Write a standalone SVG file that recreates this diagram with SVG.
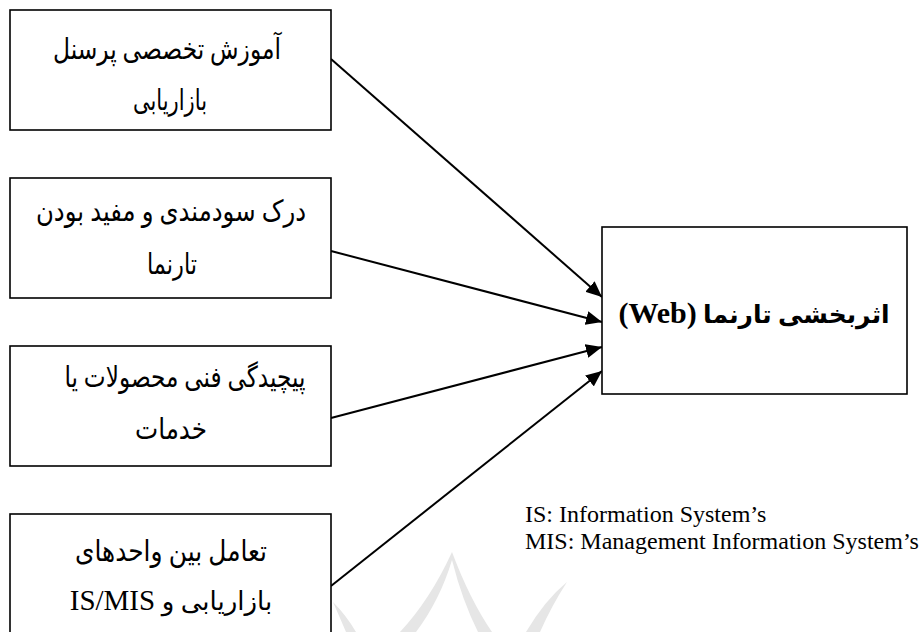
<svg xmlns="http://www.w3.org/2000/svg" width="922" height="632" viewBox="0 0 922 632">
<style>
.box{fill:#fff;stroke:#000;stroke-width:1.6}
.fa{font-family:"Liberation Serif","DejaVu Sans",serif;font-size:29px;fill:#000;text-anchor:middle}
.tgt{font-family:"Liberation Serif","DejaVu Sans",serif;font-size:25px;font-weight:bold;fill:#000;text-anchor:middle}
.leg{font-family:"Liberation Serif",serif;font-size:24px;fill:#000}
.edge{stroke:#000;stroke-width:2;fill:none;marker-end:url(#ah)}
.wm{fill:#e6e6e6}
</style>
<defs>
<marker id="ah" markerUnits="userSpaceOnUse" markerWidth="17" markerHeight="14" refX="16" refY="7" orient="auto">
<path d="M0,0 L16,7 L0,14 z" fill="#000"/>
</marker>
</defs>
<rect width="922" height="632" fill="#fff"/>
<g id="watermark">
<path class="wm" d="M452,552 Q430,600 400,632 L416,632 Q440,600 452,560 Q462,600 478,632 L492,632 Q470,600 452,552 z"/>
<path class="wm" d="M567,582 Q545,600 526,632 L540,632 Q552,605 567,582 z"/>
<path class="wm" d="M333,602 Q340,618 346,632 L356,632 Q346,615 333,602 z"/>
</g>
<g id="connectors">
<line class="edge" x1="331" y1="59" x2="602" y2="297"/>
<line class="edge" x1="331" y1="251" x2="602" y2="322"/>
<line class="edge" x1="331" y1="418" x2="602" y2="347"/>
<line class="edge" x1="331" y1="586" x2="602" y2="371"/>
</g>
<g id="n1">
<rect class="box" x="10" y="10" width="321" height="120"/>
<text class="fa" x="167" y="59" direction="rtl" textLength="228" lengthAdjust="spacingAndGlyphs">آموزش تخصصی پرسنل</text>
<text class="fa" x="170" y="110" direction="rtl" textLength="74" lengthAdjust="spacingAndGlyphs">بازاریابی</text>
</g>
<g id="n2">
<rect class="box" x="10" y="178" width="321" height="120"/>
<text class="fa" x="171" y="221" direction="rtl" textLength="270" lengthAdjust="spacingAndGlyphs">درک سودمندی و مفید بودن</text>
<text class="fa" x="172" y="274" direction="rtl" textLength="50" lengthAdjust="spacingAndGlyphs">تارنما</text>
</g>
<g id="n3">
<rect class="box" x="10" y="346" width="321" height="120"/>
<text class="fa" x="185" y="387" direction="rtl" textLength="241" lengthAdjust="spacingAndGlyphs">پیچیدگی فنی محصولات یا</text>
<text class="fa" x="171" y="439" direction="rtl" textLength="72" lengthAdjust="spacingAndGlyphs">خدمات</text>
</g>
<g id="n4">
<rect class="box" x="10" y="514" width="321" height="130"/>
<text class="fa" x="171" y="561" direction="rtl" textLength="192" lengthAdjust="spacingAndGlyphs">تعامل بین واحدهای</text>
<text class="fa" x="171" y="610" direction="rtl" style="font-size:26px">بازاریابی و <tspan style="font-size:29px">IS/MIS</tspan></text>
</g>
<g id="target">
<rect class="box" x="602" y="227" width="305" height="167"/>
<text class="tgt" x="754" y="323" direction="rtl">اثربخشی تارنما <tspan style="font-size:30px">(Web)</tspan></text>
</g>
<g id="legend">
<text class="leg" x="525" y="522">IS: Information System’s</text>
<text class="leg" x="525" y="549">MIS: Management Information System’s</text>
</g>
</svg>
